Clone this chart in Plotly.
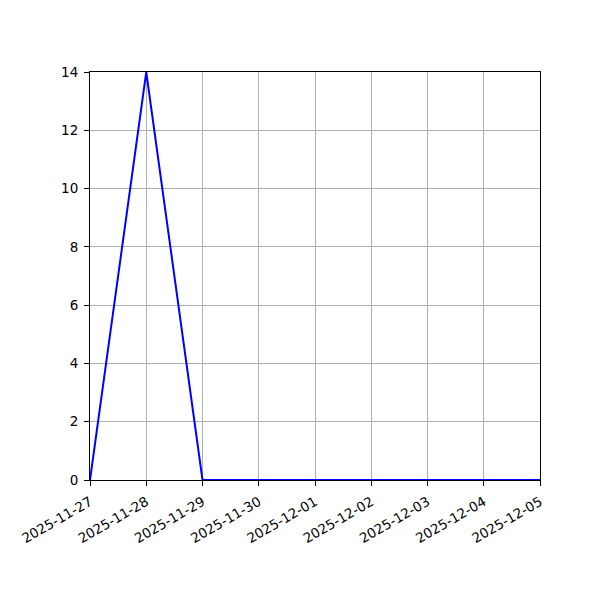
import plotly.graph_objects as go

# daily counts
dates = ["2025-11-27", "2025-11-28", "2025-11-29", "2025-11-30", "2025-12-01",
         "2025-12-02", "2025-12-03", "2025-12-04", "2025-12-05"]
counts = [0, 14, 0, 0, 0, 0, 0, 0, 0]

fig = go.Figure()
fig.add_trace(go.Scatter(
    x=dates,
    y=counts,
    mode="lines",
    line=dict(color="blue", width=2),
    showlegend=False,
    cliponaxis=False,
))

axis_common = dict(
    showline=True,
    linecolor="black",
    linewidth=1,
    mirror=True,
    ticks="outside",
    ticklen=5,
    tickcolor="black",
    showgrid=True,
    gridcolor="#b0b0b0",
    gridwidth=0.8,
    zeroline=False,
    ticklabelstandoff=3,
    tickfont=dict(family="DejaVu Sans", size=13.5, color="black"),
)

# page body has an 8px margin, so shift the plot area back
fig.update_layout(
    width=600,
    height=600,
    paper_bgcolor="white",
    plot_bgcolor="white",
    margin=dict(l=82, r=68, t=64, b=128),
    xaxis=dict(
        type="date",
        range=["2025-11-27", "2025-12-05"],
        dtick=86400000,
        tick0="2025-11-27",
        tickformat="%Y-%m-%d",
        tickangle=-30,
        **axis_common,
    ),
    yaxis=dict(
        range=[0, 14],
        dtick=2,
        **axis_common,
    ),
)

fig.write_html("out.html")
